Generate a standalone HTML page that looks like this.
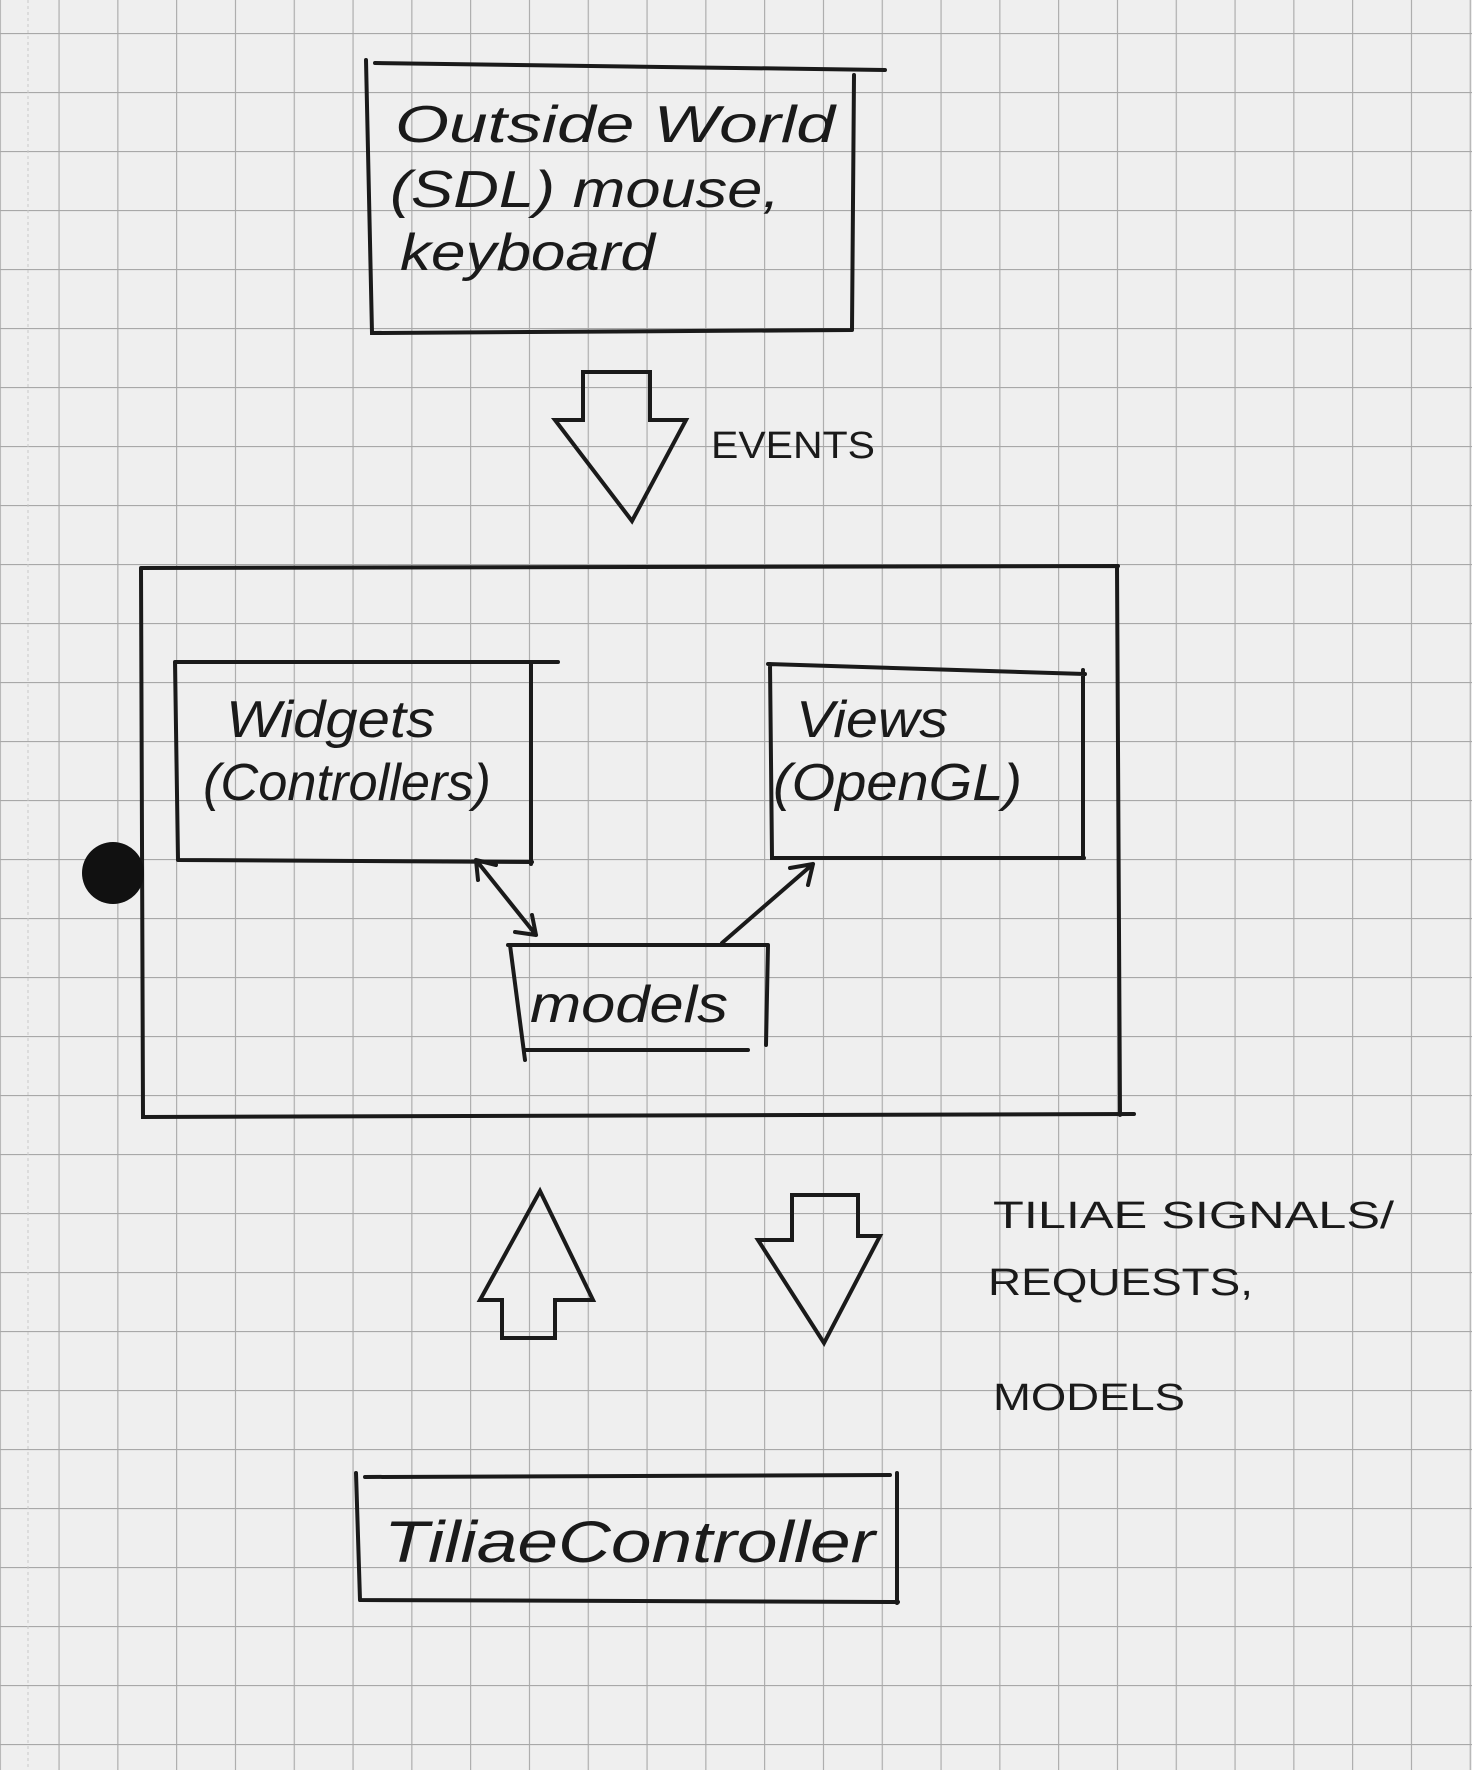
<!DOCTYPE html>
<html><head><meta charset="utf-8"><style>
html,body{margin:0;padding:0;background:#efefef;}
svg{display:block}
text{font-family:"Liberation Sans",sans-serif;fill:#1a1a1a;font-style:italic}
</style></head><body>
<svg width="1472" height="1770" viewBox="0 0 1472 1770" xmlns="http://www.w3.org/2000/svg">
<defs>
<pattern id="g" x="58.5" y="33" width="58.8" height="59" patternUnits="userSpaceOnUse">
<path d="M0 0H58.8M0 0V59" stroke="#a8a8a8" stroke-width="2.2" fill="none"/>
</pattern>
</defs>
<rect width="1472" height="1770" fill="#efefef"/>
<rect width="1472" height="1770" fill="url(#g)"/>
<line x1="28" y1="0" x2="28" y2="1770" stroke="#c8c8c8" stroke-width="1" stroke-dasharray="3,3"/>
<g stroke="#1a1a1a" stroke-width="4" fill="none" stroke-linecap="round">
<path d="M366 60 L372 333 L852 330 M375 63 L885 70 M854 75 L852 330"/>
<path d="M583 372 L583 420 L555 420 L632 521 L686 420 L650 420 L650 372 Z"/>
<path d="M141 568 L143 1117 L1134 1114 M141 568 L1118 566 M1117 566 L1120 1115"/>
<path d="M175 662 L558 662 M175 662 L178 860 M178 860 L532 862 M531 662 L531 864"/>
<path d="M768 664 L1085 674 M770 664 L772 858 L1084 858 M1083 670 L1083 858"/>
<path d="M508 945 L768 945 M510 945 L525 1060 M526 1050 L748 1050 M768 945 L766 1045"/>
<path d="M476 860 L536 935 M476 860 L478 880 M476 860 L496 865 M536 935 L515 932 M536 935 L532 915"/>
<path d="M722 943 L813 864 M813 864 L790 868 M813 864 L808 885"/>
<path d="M502 1338 L502 1300 L480 1300 L540 1191 L593 1300 L555 1300 L555 1338 Z"/>
<path d="M792 1195 L792 1240 L758 1240 L824 1343 L880 1236 L858 1236 L858 1195 Z"/>
<path d="M356 1473 L360 1600 M365 1477 L890 1475 M360 1600 L898 1602 M897 1473 L897 1603"/>
</g>
<circle cx="113" cy="873" r="31" fill="#111"/>
<g font-size="52">
<text x="395" y="142" textLength="440" lengthAdjust="spacingAndGlyphs">Outside World</text>
<text x="390" y="207" textLength="390" lengthAdjust="spacingAndGlyphs">(SDL) mouse,</text>
<text x="400" y="270" textLength="255" lengthAdjust="spacingAndGlyphs">keyboard</text>
<text x="226" y="737" textLength="209" lengthAdjust="spacingAndGlyphs">Widgets</text>
<text x="203" y="800" textLength="288" lengthAdjust="spacingAndGlyphs">(Controllers)</text>
<text x="796" y="737" textLength="152" lengthAdjust="spacingAndGlyphs">Views</text>
<text x="773" y="800" textLength="249" lengthAdjust="spacingAndGlyphs">(OpenGL)</text>
<text x="530" y="1022" textLength="198" lengthAdjust="spacingAndGlyphs">models</text>
<text x="384" y="1562" font-size="58" textLength="491" lengthAdjust="spacingAndGlyphs">TiliaeController</text>
</g>
<g font-size="38">
<text x="711" y="458" style="font-style:normal" textLength="164" lengthAdjust="spacingAndGlyphs">EVENTS</text>
<text x="993" y="1228" style="font-style:normal" textLength="401" lengthAdjust="spacingAndGlyphs">TILIAE SIGNALS/</text>
<text x="988" y="1295" style="font-style:normal" textLength="265" lengthAdjust="spacingAndGlyphs">REQUESTS,</text>
<text x="993" y="1410" style="font-style:normal" textLength="192" lengthAdjust="spacingAndGlyphs">MODELS</text>
</g>
</svg>
</body></html>
